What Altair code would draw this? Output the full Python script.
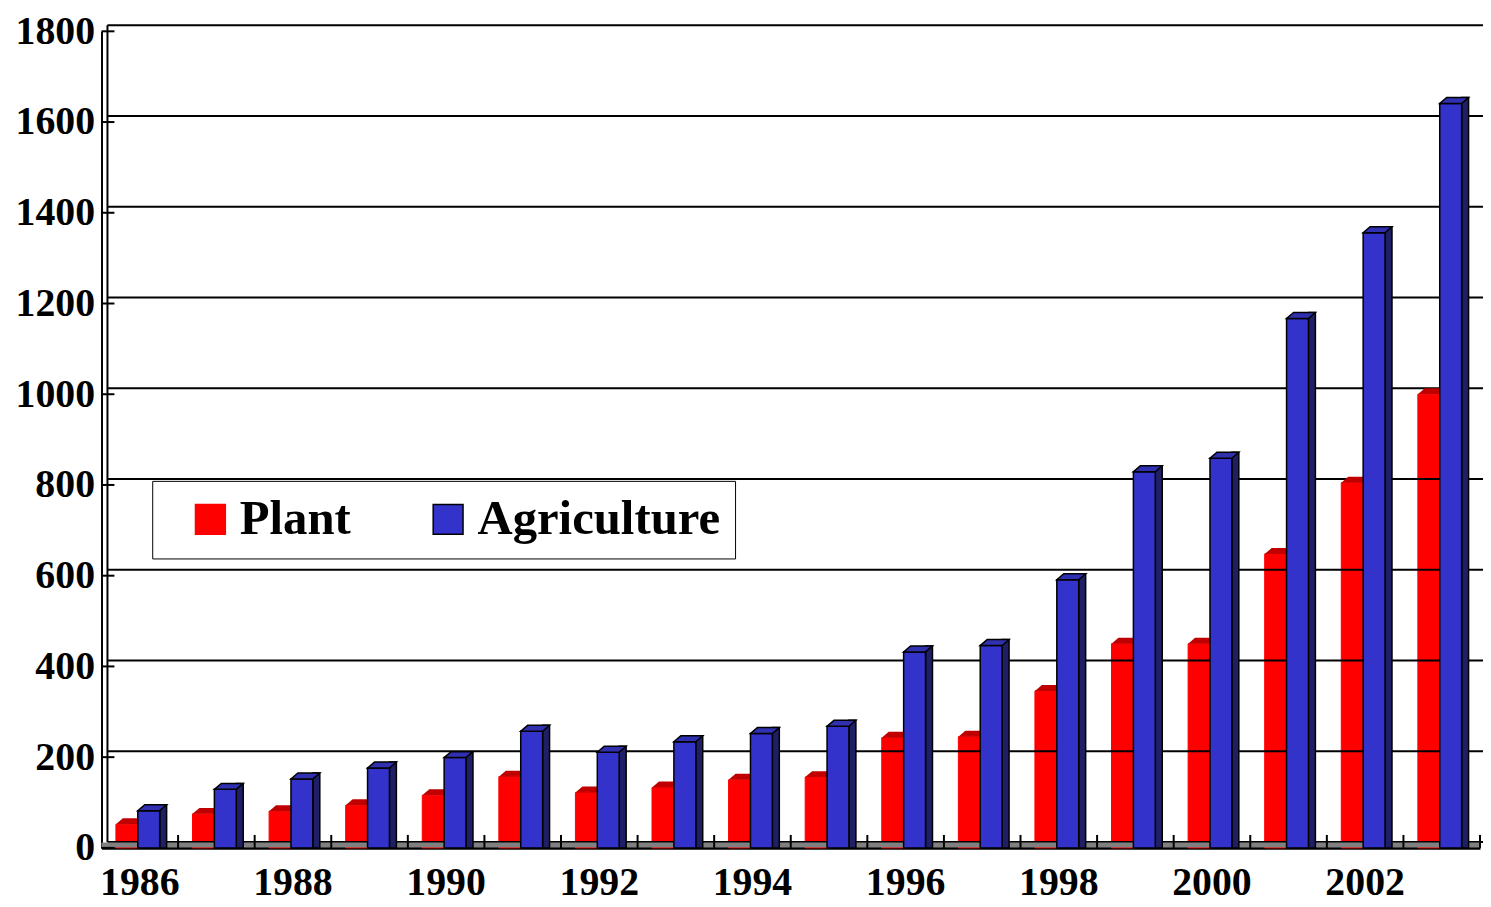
import altair as alt
import pandas as pd

# ---- data ----
years = list(range(1986, 2004))
plant = [52, 75, 81, 94, 116, 157, 122, 133, 150, 156, 243, 245, 346, 450, 450, 648, 805, 1000]
agriculture = [82, 129, 152, 176, 199, 257, 211, 234, 252, 268, 432, 446, 591, 829, 859, 1167, 1356, 1641]
series_names = ["Plant", "Agriculture"]
grid_values = [0, 200, 400, 600, 800, 1000, 1200, 1400, 1600, 1800]
label_years = [1986, 1988, 1990, 1992, 1994, 1996, 1998, 2000, 2002]

# ---- layout / style ----
W = 1386
H = 821
STEP = W / len(years)
DEPTH_X = 7
DEPTH_Y = 6
FONT = "Liberation Serif"
RED = "#ff0000"
RED_TOP = "#c00000"
BLUE = "#3333cc"
BLUE_TOP = "#3030b0"
BLUE_SIDE = "#1f1f66"

df = pd.DataFrame({
    "year": years * 2,
    "series": ["Plant"] * len(years) + ["Agriculture"] * len(years),
    "value": plant + agriculture,
})
df["zero"] = 0
grid_df = pd.DataFrame({"value": grid_values})
wall_df = pd.DataFrame({"value": [grid_values[-1]], "zero": [0]})
year_df = pd.DataFrame({"year": years, "value": [0] * len(years), "zero": [0] * len(years)})

fill_scale = alt.Scale(domain=series_names, range=[RED, BLUE])
stroke_scale = alt.Scale(domain=series_names, range=[RED, "#000000"])

legend = alt.Legend(
    orient="none", legendX=51, legendY=452, direction="horizontal", title=None,
    strokeColor="black", fillColor="white", padding=14,
    symbolType="square", symbolSize=900, symbolStrokeWidth=1.5,
    labelFont=FONT, labelFontSize=49, labelFontWeight="bold", labelColor="black",
    labelOffset=5, columnPadding=53, symbolOffset=20, labelLimit=0,
)

x_axis = alt.Axis(
    values=label_years, labelAngle=0, labelFont=FONT, labelFontSize=40,
    labelFontWeight="bold", labelColor="black", ticks=False, tickSize=0,
    domainColor="black", domainWidth=3, labelPadding=47,
    labelBaseline="alphabetic", title=None, grid=False,
)
y_axis = alt.Axis(
    values=grid_values, format="d", labelFont=FONT, labelFontSize=40,
    labelFontWeight="bold", labelColor="black", ticks=False, tickSize=0,
    domainColor="black", domainWidth=2, labelPadding=7, title=None, grid=False,
)

x_scale = alt.Scale(paddingInner=0, paddingOuter=0)
x_enc = alt.X("year:O", scale=x_scale, axis=x_axis)
y_scale = alt.Scale(domain=[0, 1800], nice=False, zero=True)
y_enc = alt.Y("value:Q", scale=y_scale, axis=y_axis)

# parallelogram top face (unit box -1..1 scaled to 29px)
TOP_W = 22 + DEPTH_X
a = DEPTH_Y / TOP_W
b = (22 - DEPTH_X) / TOP_W
PARA = f"M -1 {a:.4f} L {b:.4f} {a:.4f} L 1 {-a:.4f} L {-b:.4f} {-a:.4f} Z"

# gridlines on the back wall
grid = alt.Chart(grid_df).mark_rule(color="black", strokeWidth=2, yOffset=-DEPTH_Y).encode(
    y=y_enc,
    x=alt.value(DEPTH_X - 1), x2=alt.value(W + 6),
)
wall_ticks = alt.Chart(grid_df).mark_rule(color="black", strokeWidth=2).encode(
    y=y_enc,
    x=alt.value(0), x2=alt.value(13),
)
back_wall = alt.Chart(wall_df).mark_rule(
    color="black", strokeWidth=2, yOffset=-DEPTH_Y, y2Offset=-DEPTH_Y
).encode(
    y=y_enc, y2="zero:Q", x=alt.value(DEPTH_X - 1),
)
floor = alt.Chart(wall_df).mark_rule(
    color="#808080", strokeWidth=5, yOffset=-3,
).encode(
    y="zero:Q", x=alt.value(0), x2=alt.value(W),
)
x_ticks = alt.Chart(year_df).mark_rule(
    color="black", strokeWidth=2, xOffset=STEP / 2, yOffset=-13, y2Offset=0
).encode(
    x=x_enc, y=y_enc, y2="zero:Q",
)

base = alt.Chart(df)

red_front = base.transform_filter(alt.datum.series == "Plant").mark_bar(
    width=22, xOffset=-13, strokeWidth=1
).encode(
    x=x_enc, y=y_enc,
    fill=alt.Fill("series:N", scale=fill_scale, legend=legend),
    stroke=alt.Stroke("series:N", scale=stroke_scale, legend=legend),
)
red_top = base.transform_filter(alt.datum.series == "Plant").mark_point(
    shape=PARA, size=TOP_W ** 2, filled=True, fill=RED_TOP, opacity=1,
    strokeWidth=0, xOffset=-24 + TOP_W / 2, yOffset=-DEPTH_Y / 2,
).encode(x=x_enc, y=y_enc)

blue_side = base.transform_filter(alt.datum.series == "Agriculture").mark_bar(
    width=DEPTH_X, xOffset=20 + DEPTH_X / 2, yOffset=-DEPTH_Y, y2Offset=0,
    fill=BLUE_SIDE, stroke="black", strokeWidth=1.5,
).encode(x=x_enc, y=y_enc, y2="zero:Q")
blue_front = base.transform_filter(alt.datum.series == "Agriculture").mark_bar(
    width=22, xOffset=9, strokeWidth=1.5
).encode(
    x=x_enc, y=y_enc,
    fill=alt.Fill("series:N", scale=fill_scale, legend=legend),
    stroke=alt.Stroke("series:N", scale=stroke_scale, legend=legend),
)
blue_top = base.transform_filter(alt.datum.series == "Agriculture").mark_point(
    shape=PARA, size=TOP_W ** 2, filled=True, fill=BLUE_TOP, opacity=1,
    stroke="black", strokeWidth=1.5, xOffset=-2 + TOP_W / 2, yOffset=-DEPTH_Y / 2,
).encode(x=x_enc, y=y_enc)

chart = alt.layer(
    red_front, grid, back_wall, floor, x_ticks, wall_ticks,
    red_top, blue_side, blue_front, blue_top,
).properties(
    width=W, height=H,
    autosize=alt.AutoSizeParams(type="none"),
    padding={"left": 94, "top": 21, "right": 3, "bottom": 57},
).configure_view(stroke=None)

chart.save("out.html", embed_options={"renderer": "svg", "actions": False})
